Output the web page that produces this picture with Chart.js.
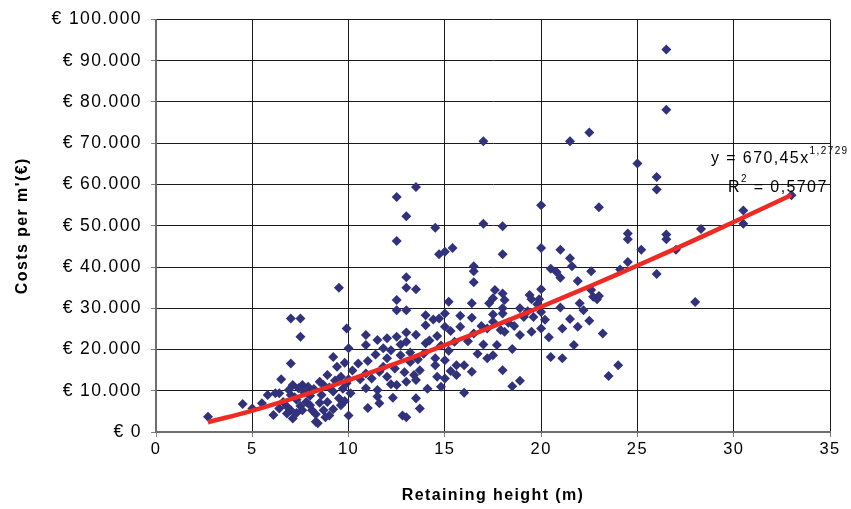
<!DOCTYPE html>
<html>
<head>
<meta charset="utf-8">
<title>Costs per m' vs retaining height</title>
<script src="https://cdn.jsdelivr.net/npm/chart.js@4/dist/chart.umd.min.js"></script>
<style>
  body { margin: 0; background: #fff; }
  #wrapper { width: 851px; height: 509px; }
</style>
</head>
<body>
<div id="wrapper"><canvas id="grafico" width="851" height="509"></canvas></div>
<script>
"use strict";

// retaining height (m) of every measured wall
const heights = [
  17.0, 21.5, 22.5, 26.5, 26.5, 25.0, 26.0, 26.0, 20.0, 23.0,
  13.5, 12.5, 13.0, 14.5, 17.0, 18.0, 12.5, 14.7, 15.0, 15.4,
  16.5, 16.5, 16.5, 9.5, 13.0, 13.0, 13.5, 18.0, 20.0, 21.0,
  21.5, 21.6, 24.5, 24.5, 25.2, 24.5, 24.1, 26.0, 20.5, 20.8,
  21.0, 22.6, 21.9, 20.0, 17.6, 18.0, 22.6, 19.4, 30.5, 30.5,
  33.0, 28.3, 26.5, 26.5, 27.0, 28.0,
  17.5, 18.1, 19.5, 19.9, 22.7, 22.9, 18.9, 21.0, 22.2, 18.0,
  18.0, 19.6, 20.0, 19.1, 18.6, 17.9, 18.1, 17.5, 21.5, 21.1,
  21.9, 20.0, 19.5, 18.9, 23.2, 21.7, 17.7, 17.5, 20.5, 21.1,
  24.0, 23.5, 18.0, 18.9, 18.5,
  12.5, 13.0, 12.5, 15.2, 16.4, 14.7, 15.0, 14.0, 16.4, 17.3,
  9.9, 10.9, 11.5, 12.0, 12.5, 13.0, 13.0, 14.0, 14.6, 15.0,
  15.3, 15.8, 16.5, 17.0, 17.2, 10.0, 10.9, 11.8, 9.2, 10.5,
  12.0, 12.7, 13.2, 14.0, 14.5, 14.5, 15.0, 15.6, 16.0, 16.4,
  17.2, 16.0, 8.9, 9.4, 9.6, 10.9, 11.6, 12.0, 12.5, 13.0,
  13.4, 13.5, 13.7, 14.6, 15.0, 9.9, 10.1, 9.2, 8.7, 10.9,
  11.5, 11.6, 11.5, 12.2, 13.5, 13.7, 12.8, 10.0, 9.0, 9.6,
  8.7, 8.9,
  7.0, 7.5, 7.5, 7.0, 6.5, 4.5, 2.7, 6.1, 5.8, 6.2,
  6.4, 5.0, 5.5, 7.1, 7.6, 7.9, 7.0, 7.3, 7.0, 7.1,
  7.6, 8.1, 7.8, 8.4, 8.3, 6.4, 6.6, 6.8,
  6.9, 7.2, 7.4, 7.7, 8.0, 8.2, 8.5, 8.6, 7.5, 8.0,
  8.3, 7.3, 6.8, 8.8, 8.5, 9.0, 9.3, 9.7, 9.5, 9.8,
  9.2, 10.0, 9.8, 10.2, 10.6, 11.0, 11.2, 11.4, 11.8, 12.2,
  12.4, 12.7, 12.9, 13.2, 13.5, 13.6, 13.9, 14.2, 14.4, 14.8,
  15.2, 15.5, 15.8, 16.2, 16.7, 16.9, 17.5, 18.3, 18.5, 19.3,
  19.8, 20.2, 20.4, 22.0, 22.5, 23.0, 14.1, 14.8, 15.6, 12.3,
  11.0, 13.0, 15.3
];

// costs per m' (euro), same order as heights
const costs = [
  70500, 70500, 72600, 92700, 78100, 65100, 61800, 58800, 55000, 54500,
  59400, 57000, 52300, 49500, 50500, 49900, 46300, 43100, 43700, 44600,
  40200, 39000, 36300, 35000, 37500, 35000, 34600, 43100, 44600, 44200,
  42100, 40200, 48100, 46700, 44200, 41200, 39400, 38300, 39600, 38800,
  37400, 39000, 36600, 34600, 34400, 33600, 34400, 33200, 53700, 50500,
  57400, 49200, 47900, 46700, 44200, 31500,
  32400, 32000, 32200, 32200, 32800, 32200, 30000, 30200, 29500, 30000,
  28700, 27900, 29100, 27900, 25700, 24700, 24300, 26700, 27400, 25100,
  25500, 25100, 24300, 23500, 23900, 21100, 21100, 18600, 18200, 17900,
  16200, 13600, 15000, 12400, 11100,
  32000, 29500, 29500, 31600, 31200, 27500, 28700, 28300, 27700, 31200,
  25100, 23500, 22300, 22700, 23100, 24100, 21900, 25900, 23300, 25500,
  24500, 25500, 23900, 21200, 25100, 20300, 21100, 20300, 18200, 16600,
  17900, 18600, 17000, 21500, 17900, 16200, 17400, 16200, 16200, 14600,
  17900, 9500, 13800, 15800, 13400, 14200, 14600, 13400, 11400, 12200,
  13800, 12600, 15000, 13400, 13000, 11800, 9400, 9800, 11400, 10600,
  10200, 7000, 8600, 11600, 8200, 5700, 4000, 4000, 4000, 6500,
  5300, 7300,
  27500, 27500, 23100, 16600, 12800, 6800, 3700, 4100, 9000, 9400,
  9400, 5700, 7000, 11400, 11400, 11000, 9000, 7800, 5300, 3300,
  5300, 5300, 7300, 2100, 2500, 5700, 7300, 4500,
  10200, 8400, 10600, 9600, 8800, 10400, 12200, 9000, 6300, 6500,
  4300, 4600, 6200, 3600, 7100, 10800, 12500, 10500, 8200, 7500,
  5500, 12800, 16800, 14900, 12800, 17200, 13000, 18800, 15800, 19800,
  15400, 21200, 14500, 19300, 23600, 17600, 19000, 22200, 27300, 21000,
  19700, 21900, 28200, 22000, 19000, 25700, 28500, 26500, 20100, 29300,
  31000, 27200, 23000, 31200, 27000, 33000, 10500, 11000, 13800, 8300,
  5800, 3600, 14800
];

// power trendline as drawn on the chart (y = 670,45x^1,2729)
const trendX = [2.7, 5, 7.5, 10, 12.5, 15, 17.5, 20, 22.5, 25, 27.5, 30, 33];
const trendY = [2370, 5200, 8720, 12570, 16690, 21060, 25620, 30370, 35280, 40350, 45550, 50890, 57460];

const xTicks = [0, 5, 10, 15, 20, 25, 30, 35];
const yTicks = [0, 10000, 20000, 30000, 40000, 50000, 60000, 70000, 80000, 90000, 100000];

const eqText = "y = 670,45x";
const eqSup = "1,2729";
const r2Text = "R";
const r2Sup = "2";
const r2Value = " = 0,5707";

const FONT = "'Liberation Sans', Arial, sans-serif";
const SPAZIO = "1.4px";

function euro(v) {
    return "€ " + v.toString().replace(/\B(?=(\d{3})+(?!\d))/g, ".");
}

let punti = [];
for (let i = 0; i < heights.length; i++)
    punti.push({ x: heights[i], y: costs[i] });

let trend = [];
for (let i = 0; i < trendX.length; i++)
    trend.push({ x: trendX[i], y: trendY[i] });

// the original export has wide letter spacing on every text
const spaziatura = {
    id: "spaziatura",
    beforeLayout(chart) { chart.ctx.letterSpacing = SPAZIO; },
    beforeDraw(chart) { chart.ctx.letterSpacing = SPAZIO; }
};

// equation and R² label near the end of the trendline
const etichetta = {
    id: "etichetta",
    afterDraw(chart) {
        const ctx = chart.ctx;
        ctx.save();
        ctx.letterSpacing = SPAZIO;
        ctx.fillStyle = "#000";
        ctx.textAlign = "left";
        ctx.textBaseline = "alphabetic";

        ctx.font = "16px " + FONT;
        ctx.fillText(eqText, 711, 163);
        let w = ctx.measureText(eqText).width;
        ctx.font = "10px " + FONT;
        ctx.fillText(eqSup, 711 + w, 154);

        ctx.font = "16px " + FONT;
        ctx.fillText(r2Text, 728, 192);
        let wr = ctx.measureText(r2Text).width;
        ctx.font = "10px " + FONT;
        ctx.fillText(r2Sup, 728 + wr, 182);
        let ws = ctx.measureText(r2Sup).width;
        ctx.font = "16px " + FONT;
        ctx.fillText(r2Value, 728 + wr + ws, 192);
        ctx.restore();
    }
};

window.onload = function () {
    let canvas = document.getElementById("grafico");
    let chart = new Chart(canvas, {
        type: "scatter",
        data: {
            datasets: [
                {
                    label: "Trend",
                    data: trend,
                    showLine: true,
                    borderColor: "#ee2a24",
                    borderWidth: 4.5,
                    pointRadius: 0,
                    tension: 0.4,
                    fill: false
                },
                {
                    label: "Costs",
                    data: punti,
                    pointStyle: "rectRot",
                    pointRadius: 5,
                    pointBorderWidth: 0,
                    backgroundColor: "#31317c",
                    borderColor: "#31317c"
                }
            ]
        },
        options: {
            responsive: false,
            animation: false,
            devicePixelRatio: 1,
            events: [],
            layout: { padding: { top: 19, right: 21, left: 0, bottom: 0 } },
            plugins: {
                legend: { display: false },
                tooltip: { enabled: false }
            },
            scales: {
                x: {
                    type: "linear",
                    min: 0,
                    max: 35,
                    afterBuildTicks: function (s) { s.ticks = xTicks.map(v => ({ value: v })); },
                    afterFit: function (s) { s.height = 77; },
                    grid: { color: "#1a1a1a", lineWidth: 1, tickLength: 5, tickColor: "#808080" },
                    border: { color: "#6e6e6e", width: 2 },
                    ticks: {
                        color: "#000",
                        padding: 3,
                        font: { family: FONT, size: 16.5 }
                    },
                    title: {
                        display: true,
                        text: "Retaining height (m)",
                        color: "#000",
                        padding: { top: 0, bottom: 4 },
                        font: { family: FONT, size: 16, weight: "bold" }
                    }
                },
                y: {
                    type: "linear",
                    min: 0,
                    max: 100000,
                    afterBuildTicks: function (s) { s.ticks = yTicks.map(v => ({ value: v })); },
                    afterFit: function (s) { s.width = 156; },
                    grid: { color: "#1a1a1a", lineWidth: 1, tickLength: 5, tickColor: "#808080" },
                    border: { color: "#6e6e6e", width: 2 },
                    ticks: {
                        color: "#000",
                        padding: 9,
                        font: { family: FONT, size: 17.5 },
                        callback: function (v) { return euro(v); }
                    },
                    title: {
                        display: true,
                        text: "Costs per m'(€)",
                        color: "#000",
                        padding: { top: 13, bottom: 0 },
                        font: { family: FONT, size: 16, weight: "bold" }
                    }
                }
            }
        },
        plugins: [spaziatura, etichetta]
    });
};
</script>
</body>
</html>
